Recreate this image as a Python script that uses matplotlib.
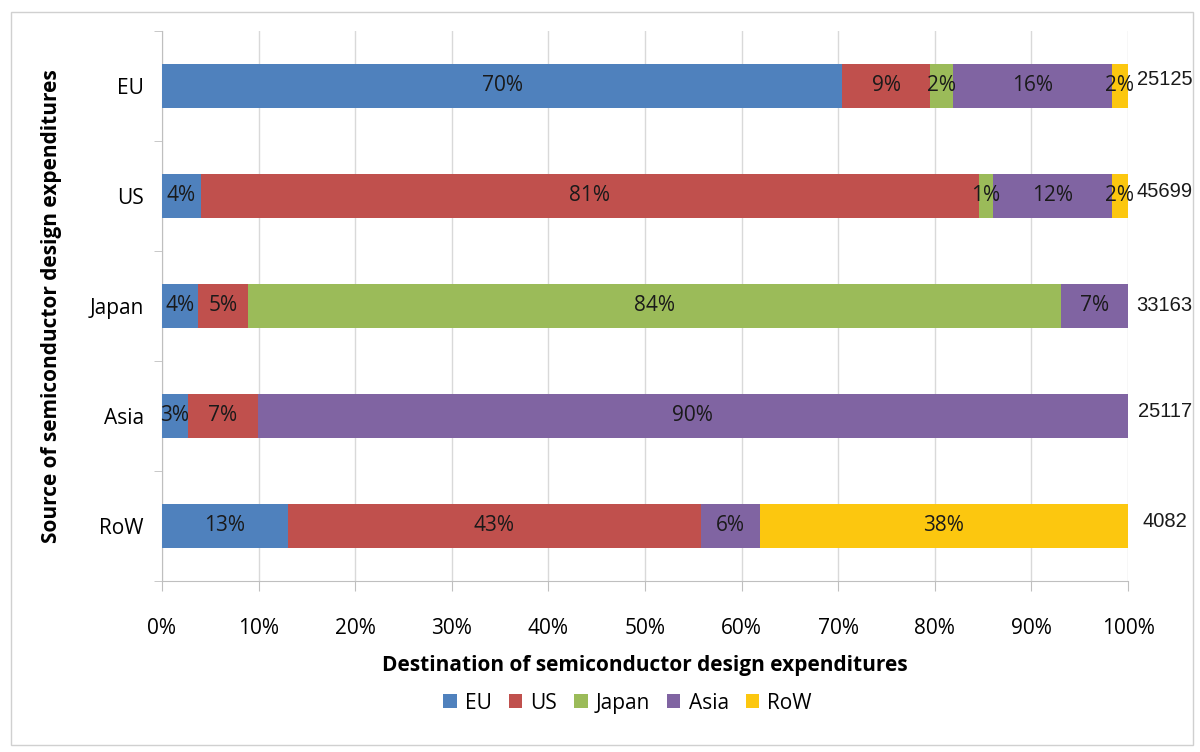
import numpy as np
import matplotlib
matplotlib.use("Agg")
import matplotlib.pyplot as plt
from matplotlib.patches import Rectangle

plt.rcParams['font.family'] = ['Open Sans', 'DejaVu Sans']

# source regions (rows, top to bottom) and destination shares (%)
sources = ['EU', 'US', 'Japan', 'Asia', 'RoW']
destinations = ['EU', 'US', 'Japan', 'Asia', 'RoW']
dest_eu = [70.4, 4.0, 3.7, 2.7, 13.0]
dest_us = [9.1, 80.6, 5.2, 7.2, 42.8]
dest_japan = [2.4, 1.4, 84.2, 0.0, 0.0]
dest_asia = [16.4, 12.3, 6.9, 90.1, 6.1]
dest_row = [1.7, 1.7, 0.0, 0.0, 38.1]
totals = [25125, 45699, 33163, 25117, 4082]

colors = ['#4F81BD', '#C0504D', '#9BBB59', '#8064A2', '#FCC70F']
series = [dest_eu, dest_us, dest_japan, dest_asia, dest_row]

fig = plt.figure(figsize=(12, 7.52), dpi=100)
ax = fig.add_axes([0.135, 0.2274, 0.805, 0.7314])

y = np.arange(len(sources))
left = np.zeros(len(sources))
for name, vals, c in zip(destinations, series, colors):
    vals = np.array(vals)
    bars = ax.barh(y, vals, left=left, height=0.4, color=c, label=name, zorder=3)
    for b, v in zip(bars, vals):
        if v > 0:
            ax.text(b.get_x() + b.get_width() / 2, b.get_y() + b.get_height() / 2,
                    f"{int(round(v))}%", ha='center', va='center',
                    fontsize=15, color='#1a1a1a', zorder=4)
    left += vals

# totals at the right
y_off = [-0.06, -0.04, 0.0, -0.04, -0.04]
for i, t in enumerate(totals):
    ax.text(103.8, y[i] + y_off[i], str(t), ha='center', va='center',
            fontsize=14.5, family='Liberation Sans', color='#1a1a1a', clip_on=False)

ax.set_xlim(0, 100)
ax.set_ylim(len(sources) - 0.5, -0.5)
ax.set_xticks(np.arange(0, 101, 10))
ax.set_xticklabels([f"{v}%" for v in range(0, 101, 10)], fontsize=15)
ax.set_yticks(y)
ax.set_yticklabels(sources, fontsize=15)
ax.set_yticks(np.arange(-0.5, len(sources), 1), minor=True)
ax.tick_params(axis='y', which='major', length=0, pad=13)
ax.tick_params(axis='y', which='minor', length=6, color='#BFBFBF')
ax.tick_params(axis='x', length=7, color='#BFBFBF', pad=20)
ax.grid(axis='x', color='#D9D9D9', linewidth=1, zorder=0)
for s in ['top', 'right']:
    ax.spines[s].set_visible(False)
for s in ['left', 'bottom']:
    ax.spines[s].set_color('#BFBFBF')

ax.set_xlabel('Destination of semiconductor design expenditures', fontsize=15,
              fontweight='bold', labelpad=11)
ax.set_ylabel('Source of semiconductor design expenditures', fontsize=15,
              fontweight='bold')
ax.yaxis.set_label_coords(-0.104, 0.5)

fig.legend(loc='center', bbox_to_anchor=(0.523, 0.065), ncol=5, frameon=False,
           fontsize=15, handlelength=0.65, handleheight=0.65, handletextpad=0.4,
           columnspacing=0.8)

fig.patches.append(Rectangle((0.009, 0.009), 0.985, 0.975, transform=fig.transFigure,
                             fill=False, edgecolor='#D0D0D0', linewidth=1))

fig.savefig('out.png', dpi=100)
